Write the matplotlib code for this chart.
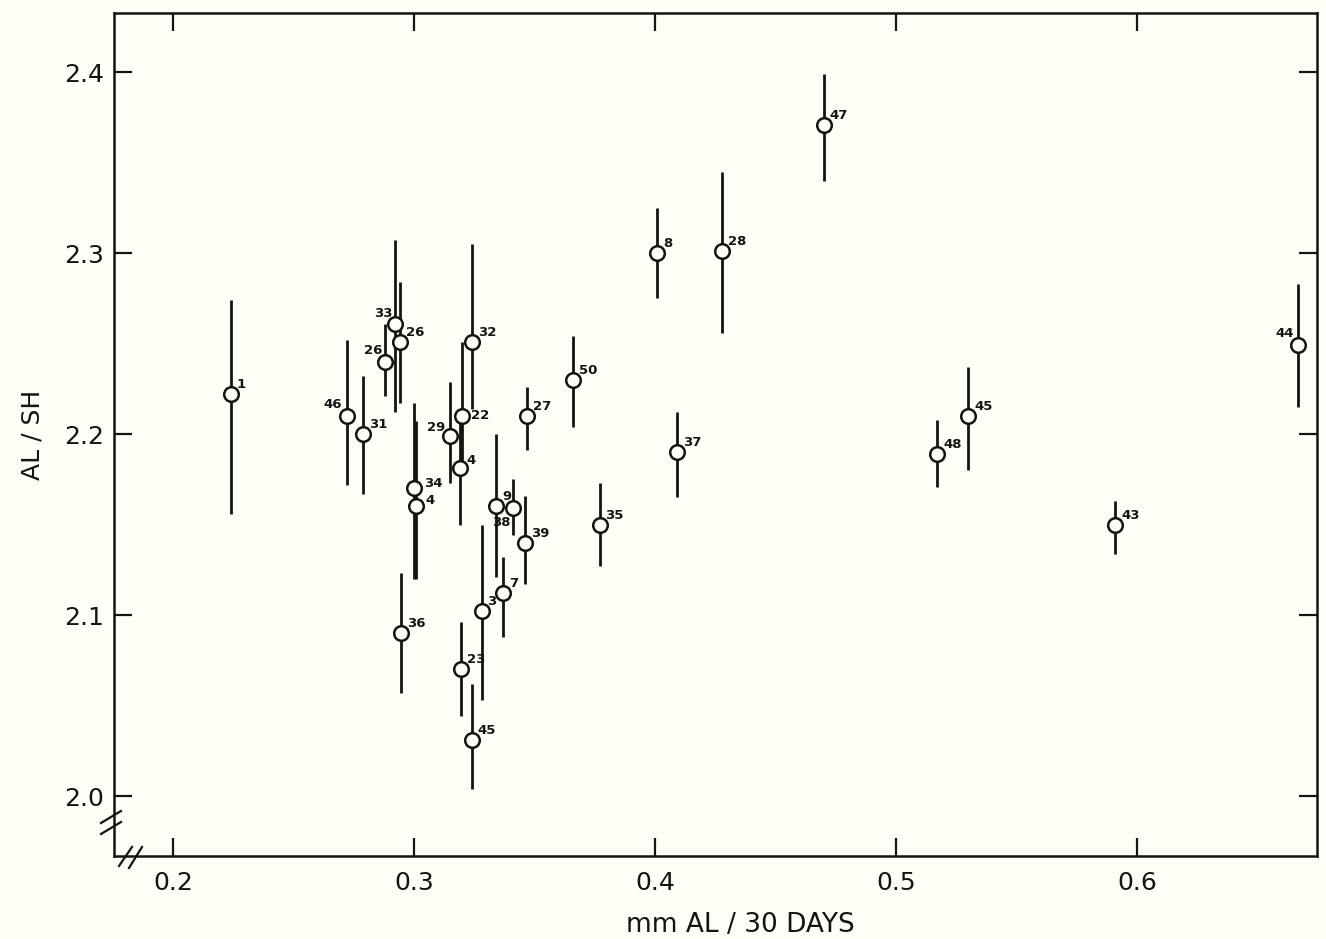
import matplotlib
matplotlib.use("Agg")
import matplotlib.pyplot as plt
import numpy as np

# ---- data ----
labels = ["1", "46", "31", "26", "33", "26", "36", "34", "4", "29", "4", "22",
          "23", "45", "32", "3", "9", "7", "38", "39", "27", "50", "35", "8",
          "37", "28", "47", "48", "45", "43", "44"]
x_vals = [0.224, 0.272, 0.279, 0.288, 0.292, 0.294, 0.2945, 0.300, 0.301, 0.315,
          0.319, 0.320, 0.3195, 0.324, 0.324, 0.328, 0.334, 0.337, 0.341, 0.346,
          0.347, 0.366, 0.377, 0.401, 0.409, 0.428, 0.470, 0.517, 0.530, 0.591, 0.667]
y_vals = [2.222, 2.210, 2.200, 2.240, 2.261, 2.251, 2.090, 2.170, 2.160, 2.199,
          2.181, 2.210, 2.070, 2.031, 2.251, 2.102, 2.160, 2.112, 2.159, 2.140,
          2.210, 2.230, 2.150, 2.300, 2.190, 2.301, 2.371, 2.189, 2.210, 2.150, 2.249]
y_low = [2.156, 2.172, 2.167, 2.221, 2.212, 2.217, 2.057, 2.120, 2.120, 2.173,
         2.150, 2.184, 2.044, 2.004, 2.214, 2.053, 2.121, 2.088, 2.144, 2.117,
         2.191, 2.204, 2.127, 2.275, 2.165, 2.256, 2.340, 2.171, 2.180, 2.134, 2.215]
y_high = [2.274, 2.252, 2.232, 2.261, 2.307, 2.284, 2.123, 2.217, 2.207, 2.229,
          2.210, 2.251, 2.096, 2.062, 2.305, 2.150, 2.200, 2.132, 2.175, 2.166,
          2.226, 2.254, 2.173, 2.325, 2.212, 2.345, 2.399, 2.208, 2.237, 2.163, 2.283]

x_ticks = [0.2, 0.3, 0.4, 0.5, 0.6]
y_ticks = [2.0, 2.1, 2.2, 2.3, 2.4]
x_label = "mm AL / 30 DAYS"
y_label = "AL / SH"

# ---- label placement (offsets in points, alignment) ----
default_place = (4.3, 4.3, "left", "baseline")
special_place = {
    1: (-3.0, 5.5, "right", "baseline"),   # 46
    3: (-2.0, 5.3, "right", "baseline"),   # 26 (left)
    4: (-1.5, 4.8, "right", "baseline"),   # 33
    7: (7.0, 1.2, "left", "baseline"),     # 34
    8: (6.5, 1.6, "left", "baseline"),     # 4
    9: (-3.5, 3.6, "right", "baseline"),   # 29
    10: (5.0, 2.9, "left", "baseline"),    # 4
    11: (6.5, 0.0, "left", "center"),      # 22
    18: (-1.3, -5.5, "right", "top"),      # 38
    30: (-3.5, 5.8, "right", "baseline"),  # 44
}

BG = "#fffef6"
INK = "#141414"

fig = plt.figure(figsize=(13.26, 9.39), dpi=100, facecolor=BG)
ax = fig.add_axes([114 / 1326, 1 - 856 / 939, (1317 - 114) / 1326, (856 - 13) / 939])
ax.set_facecolor(BG)

x = np.array(x_vals)
y = np.array(y_vals)
lo = np.array(y_low)
hi = np.array(y_high)

ax.errorbar(x, y, yerr=[y - lo, hi - y], fmt="none", ecolor=INK,
            elinewidth=2.0, capsize=0, zorder=2)
ax.plot(x, y, linestyle="none", marker="o", markersize=10.5,
        markerfacecolor=BG, markeredgecolor=INK, markeredgewidth=1.8, zorder=3)

for i, (xi, yi, lab) in enumerate(zip(x_vals, y_vals, labels)):
    dx, dy, ha, va = special_place.get(i, default_place)
    ax.annotate(lab, (xi, yi), xytext=(dx, dy), textcoords="offset points",
                ha=ha, va=va, fontsize=9.5, fontweight="bold", color=INK, zorder=4)

ax.set_xlim(0.1755, 0.6747)
ax.set_ylim(1.9669, 2.4326)
ax.set_xticks(x_ticks)
ax.set_yticks(y_ticks)
ax.set_xticklabels([f"{v:.1f}" for v in x_ticks], fontsize=18, color=INK)
ax.set_yticklabels([f"{v:.1f}" for v in y_ticks], fontsize=18, color=INK)

ax.tick_params(axis="both", which="both", direction="in", length=13, width=1.6,
               color=INK, top=True, right=True, labeltop=False, labelright=False)
ax.tick_params(axis="x", pad=11)
ax.tick_params(axis="y", pad=7)

for s in ax.spines.values():
    s.set_linewidth(1.8)
    s.set_color(INK)

ax.set_xlabel(x_label, fontsize=19, color=INK)
ax.xaxis.set_label_coords((740 - 114) / 1203, -0.066)
ax.set_ylabel(y_label, fontsize=18, color=INK)
ax.yaxis.set_label_coords(-0.058, 0.50)

# axis break marks
def px2ax(px, py):
    return ((px - 114) / 1203, (856 - py) / 843)

for (x0, y0, x1, y1) in [(101, 823, 121, 811), (101, 834, 121, 822),
                         (119, 866, 132, 847), (129, 868, 142, 847)]:
    a0 = px2ax(x0, y0)
    a1 = px2ax(x1, y1)
    ax.plot([a0[0], a1[0]], [a0[1], a1[1]], transform=ax.transAxes,
            color=INK, lw=1.6, clip_on=False, zorder=5)

fig.savefig("out.png", dpi=100, facecolor=BG)
